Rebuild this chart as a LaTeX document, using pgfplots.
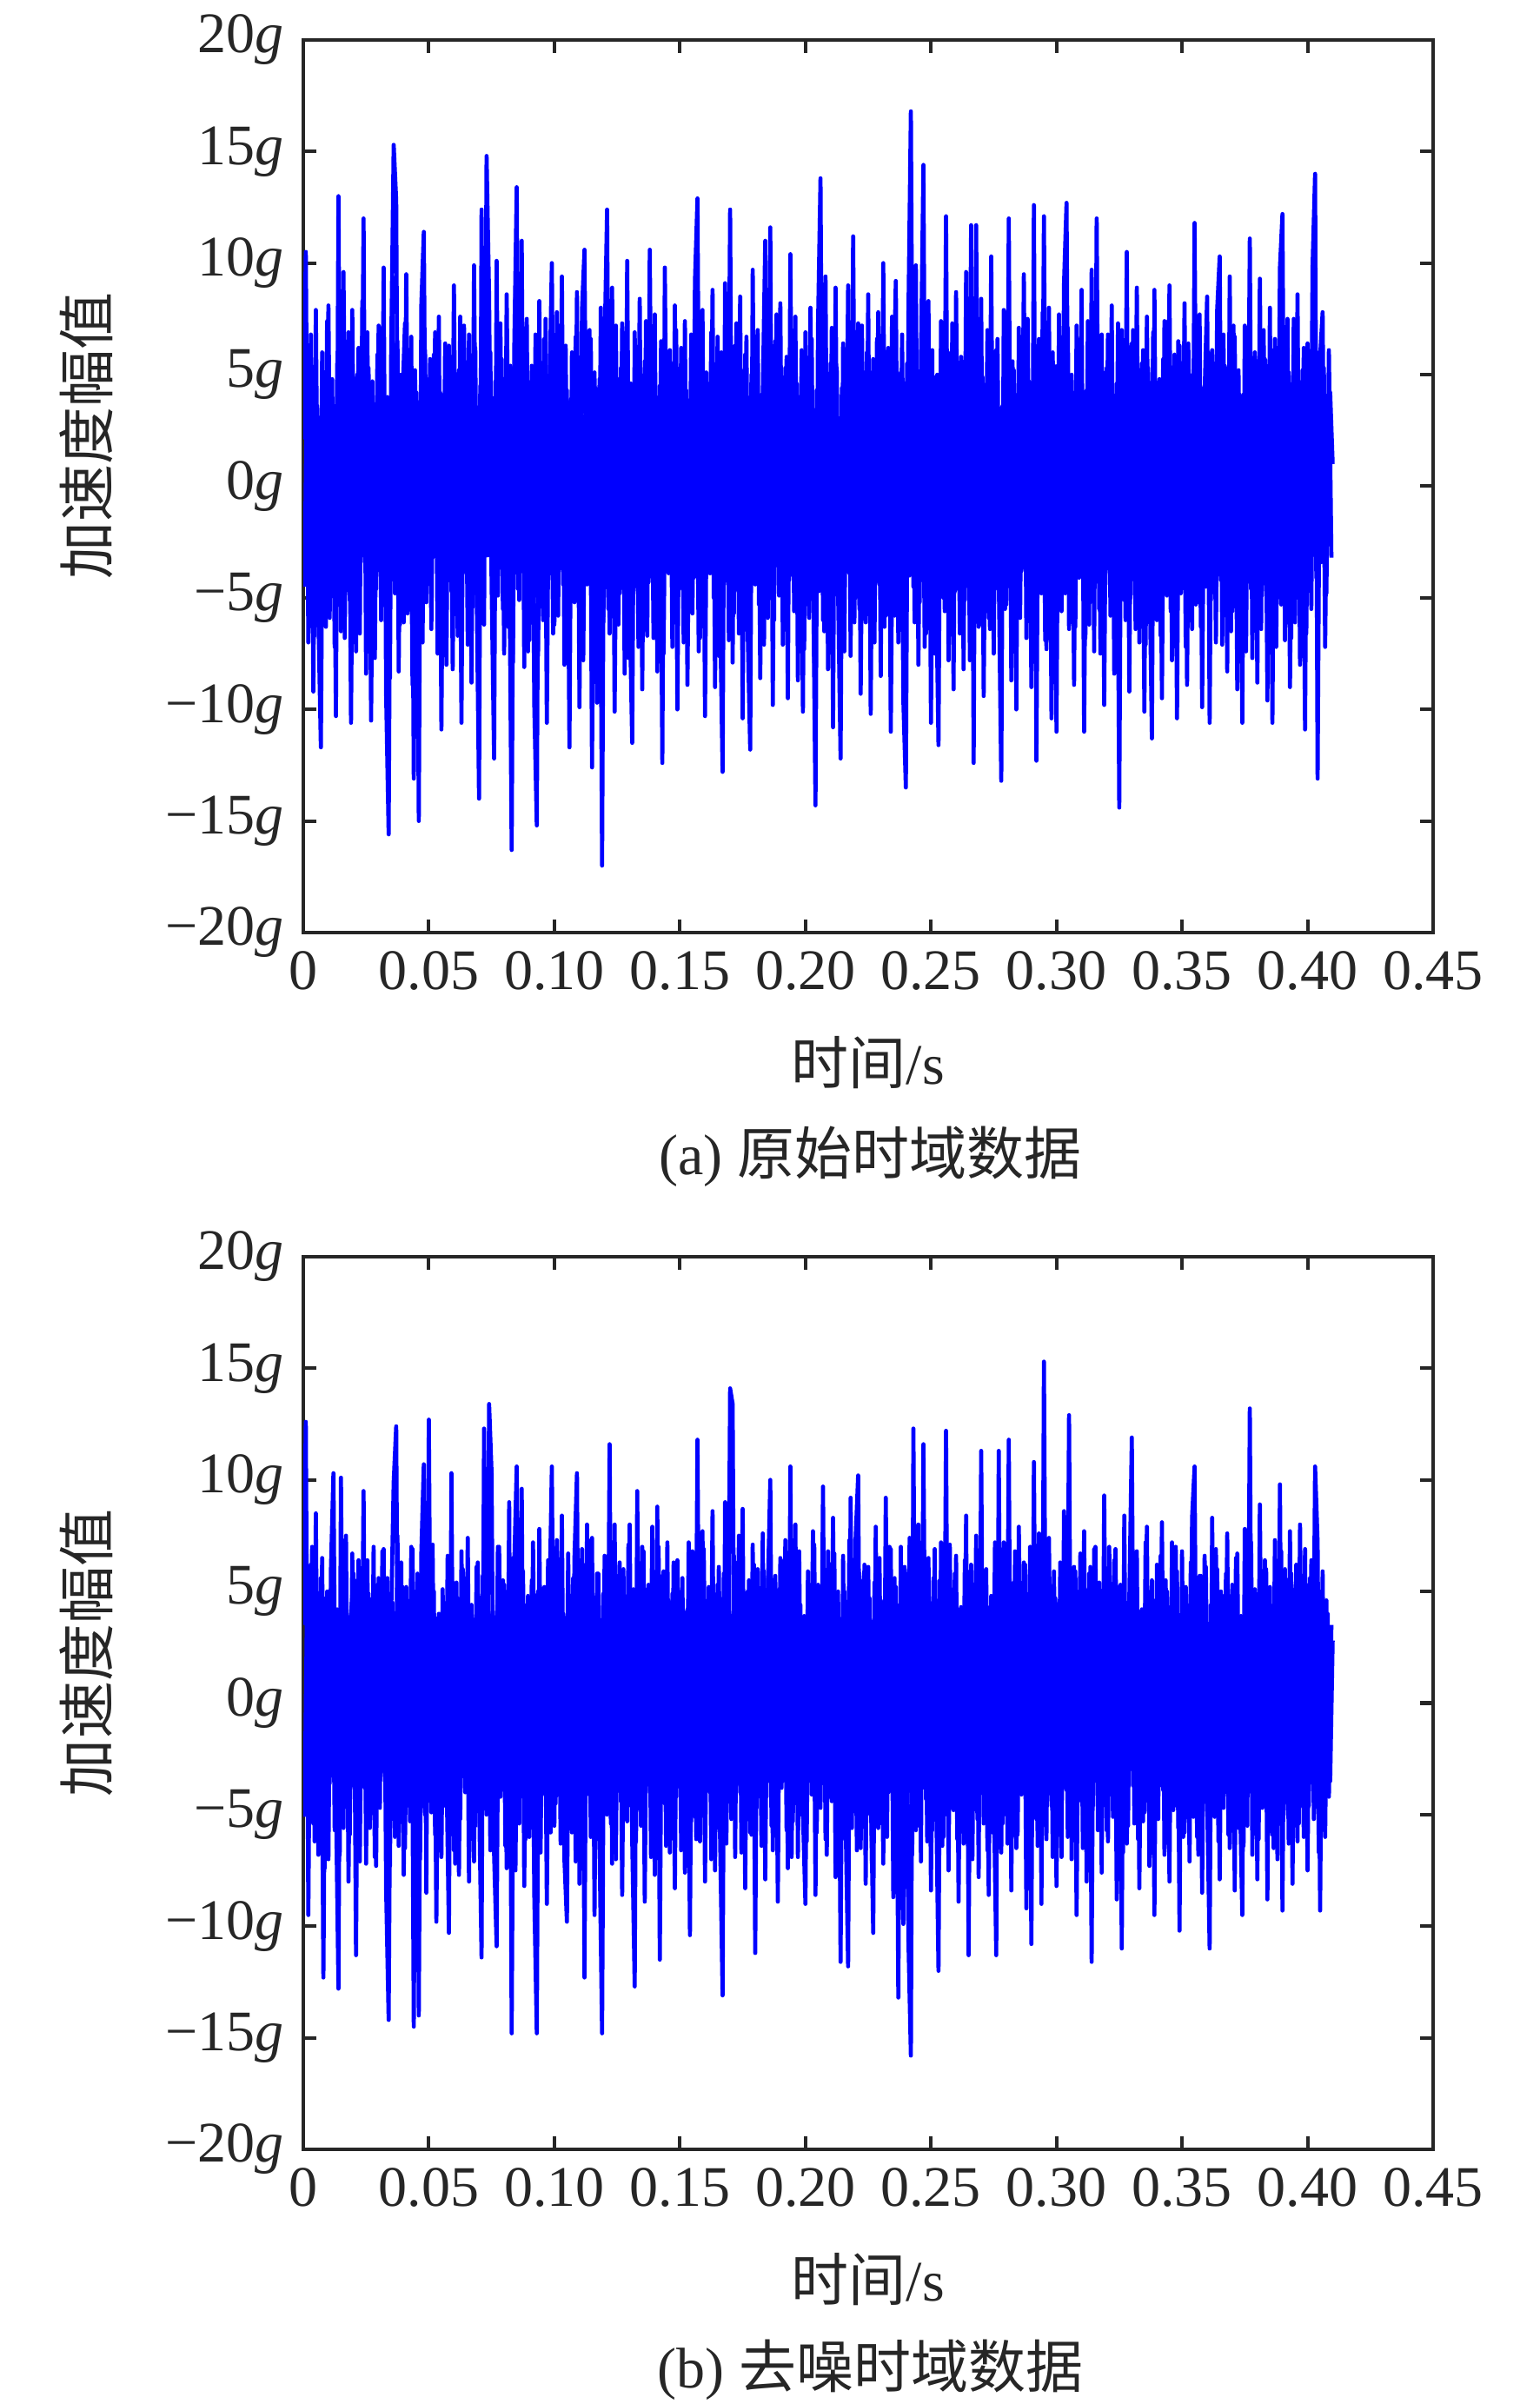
\documentclass[border=0pt]{standalone}
\usepackage{fontspec}
\setmainfont{Liberation Serif}
\newfontfamily\cjk{Noto Sans CJK SC}
\usepackage{pgfplots}
\usepackage{pgfplotstable}
\pgfplotsset{compat=1.18}
\definecolor{axgray}{RGB}{38,38,38}
\definecolor{sig}{RGB}{0,0,255}

% raw signal, samples at whole ms (0 ... 0.410 s)
\pgfplotstableread[row sep=\\]{
a\\
2.1\\ 10.5\\ -7.0\\ 6.8\\ -9.2\\ 7.9\\ -5.8\\ -11.7\\ 4.9\\ -6.3\\
8.1\\ -4.2\\ 3.0\\ -10.3\\ 13.0\\ -6.5\\ 9.6\\ -3.1\\ 6.9\\ -10.6\\
3.8\\ -7.4\\ 6.2\\ -2.5\\ 12.0\\ -8.4\\ 5.3\\ -10.5\\ 3.1\\ -4.6\\
7.2\\ -6.0\\ 9.8\\ -9.4\\ -15.6\\ 6.1\\ 15.3\\ 12.8\\ -8.3\\ 5.0\\
-6.1\\ 9.5\\ -3.8\\ 6.7\\ -13.1\\ 4.2\\ -15.0\\ 8.1\\ 11.4\\ -5.2\\
4.8\\ -6.4\\ 5.9\\ -2.0\\ 7.6\\ -10.9\\ 4.1\\ -8.0\\ 6.3\\ -4.7\\
9.0\\ -5.5\\ 5.2\\ -10.6\\ 7.2\\ -3.3\\ 6.8\\ -8.8\\ 9.9\\ -4.0\\
-14.0\\ 12.4\\ -6.2\\ 14.8\\ 8.5\\ -4.4\\ -12.2\\ 10.1\\ -3.6\\ 5.7\\
-7.5\\ 8.6\\ -2.2\\ -16.3\\ 6.0\\ 13.4\\ -5.1\\ 11.0\\ -8.1\\ 7.5\\
-6.9\\ 5.4\\ -9.8\\ -15.2\\ 8.3\\ -4.9\\ 6.6\\ -10.6\\ 3.9\\ 10.0\\
-6.2\\ 7.8\\ -3.5\\ 9.4\\ -8.0\\ 4.3\\ -11.7\\ 6.0\\ -5.2\\ 8.7\\
-9.9\\ 7.9\\ 10.6\\ -4.4\\ 7.0\\ -12.6\\ 5.1\\ -9.7\\ 4.8\\ -17.0\\
6.2\\ 12.4\\ -6.6\\ 8.9\\ -10.1\\ 3.4\\ -4.8\\ 7.3\\ -8.4\\ 10.1\\
-5.4\\ -11.5\\ 6.9\\ -3.0\\ 8.4\\ -9.1\\ 5.6\\ -6.7\\ 10.6\\ -4.1\\
7.7\\ -8.3\\ 4.5\\ -12.4\\ 9.8\\ -2.9\\ 6.1\\ -7.2\\ 8.1\\ -10.0\\
5.0\\ -4.6\\ 7.4\\ -8.9\\ 3.2\\ -5.7\\ 9.2\\ 12.9\\ -6.8\\ 7.9\\
-10.3\\ 4.6\\ -3.9\\ 8.8\\ -9.0\\ 6.7\\ -5.6\\ -12.8\\ 9.1\\ -4.2\\
12.4\\ -7.9\\ 6.3\\ -3.7\\ 8.5\\ -10.4\\ 5.9\\ -6.5\\ -11.8\\ 9.7\\
-4.4\\ 7.0\\ -8.6\\ 4.1\\ 11.0\\ -5.9\\ 11.6\\ -9.8\\ 6.5\\ -3.4\\
8.2\\ -7.1\\ 5.3\\ -9.5\\ 10.4\\ -4.0\\ 7.6\\ -8.7\\ 3.6\\ -10.1\\
6.9\\ -5.3\\ 8.0\\ -3.2\\ -14.3\\ 7.1\\ 13.8\\ -6.0\\ 9.4\\ -8.2\\
5.5\\ -10.8\\ 8.9\\ -4.7\\ -12.2\\ 6.4\\ -3.5\\ 9.0\\ -7.6\\ 11.2\\
-5.0\\ 7.3\\ -9.3\\ 4.0\\ -6.1\\ 8.6\\ -10.2\\ 5.7\\ -4.3\\ 7.8\\
-8.5\\ 10.0\\ -5.8\\ 6.2\\ -11.0\\ 3.8\\ 9.2\\ -7.0\\ 5.1\\ -9.6\\
-13.5\\ 7.5\\ 16.8\\ -4.5\\ 9.9\\ -8.0\\ 5.6\\ 14.4\\ -6.6\\ 8.3\\
-10.6\\ 4.9\\ -3.9\\ -11.6\\ 7.4\\ -5.0\\ 12.1\\ -7.8\\ 6.0\\ -9.1\\
8.7\\ -4.6\\ 5.8\\ -8.2\\ 9.6\\ -3.6\\ 11.7\\ -12.4\\ 11.7\\ -6.3\\
8.4\\ -9.4\\ 4.4\\ -5.9\\ 10.3\\ -7.5\\ 6.1\\ -4.0\\ -13.2\\ 7.9\\
-5.3\\ 12.0\\ -8.7\\ 5.2\\ -10.0\\ 7.1\\ -3.8\\ 9.5\\ -6.8\\ 4.7\\
-9.0\\ 12.6\\ -12.3\\ 6.6\\ -4.8\\ 12.1\\ -7.3\\ 8.0\\ -10.4\\ 5.4\\
-11.0\\ 7.7\\ -5.6\\ 9.1\\ 12.7\\ -6.4\\ 5.0\\ -8.9\\ 7.2\\ -4.1\\
8.8\\ -11.0\\ 4.3\\ -6.2\\ 9.7\\ -7.4\\ 12.0\\ -5.5\\ 6.8\\ -9.8\\
5.3\\ -3.7\\ 8.1\\ -8.4\\ 4.6\\ -14.4\\ 7.0\\ -5.1\\ 10.5\\ -9.2\\
6.4\\ -4.2\\ 8.9\\ -7.0\\ 5.5\\ -10.1\\ 7.6\\ -3.3\\ -11.3\\ 8.8\\
-6.0\\ 4.8\\ -9.5\\ 7.4\\ -4.9\\ 9.0\\ -7.8\\ 5.9\\ -10.4\\ 6.3\\
-3.9\\ 8.2\\ -8.9\\ 5.0\\ -6.4\\ 11.8\\ -5.2\\ 7.7\\ -9.9\\ 4.2\\
8.5\\ -10.6\\ 6.1\\ -4.5\\ 7.9\\ 10.3\\ -7.1\\ 5.4\\ -8.3\\ 9.4\\
-5.6\\ 6.7\\ -9.1\\ 4.1\\ -10.6\\ 7.2\\ -3.6\\ 11.1\\ -7.7\\ 6.0\\
-8.8\\ 9.3\\ -4.4\\ 5.7\\ -9.6\\ 8.0\\ -10.6\\ 6.6\\ -5.0\\ 9.8\\
12.2\\ -6.9\\ 7.5\\ -9.0\\ 4.3\\ -6.1\\ 8.6\\ -8.0\\ 5.2\\ -10.9\\
6.4\\ -4.7\\ 9.9\\ 14.0\\ -13.1\\ 5.8\\ 7.8\\ -7.2\\ 3.0\\ 4.2\\ 1.0\\
}\rawdata

% raw signal, samples at half ms (0.0005 ... 0.4095 s)
\pgfplotstableread[row sep=\\]{
a\\
-4.5\\ 5.2\\ -3.8\\ 4.1\\ -6.7\\ 3.6\\ -8.1\\ 6.0\\ -3.5\\ 7.4\\
-5.9\\ 4.8\\ -7.2\\ 5.5\\ -3.9\\ 6.3\\ -6.8\\ 4.4\\ -5.1\\ 7.9\\
-4.2\\ 5.0\\ -6.6\\ 8.3\\ -3.4\\ 6.9\\ -5.3\\ 4.7\\ -7.7\\ 5.9\\
-3.6\\ 7.1\\ -5.0\\ 4.0\\ -8.6\\ 9.4\\ -4.8\\ 6.5\\ -6.2\\ 3.9\\
7.3\\ -5.7\\ 4.6\\ -8.9\\ 5.2\\ -6.4\\ 3.8\\ -7.0\\ 6.1\\ -4.3\\
5.7\\ -3.2\\ 6.9\\ -7.5\\ 4.2\\ -5.6\\ 6.4\\ -3.7\\ 5.1\\ -8.2\\
4.9\\ -6.7\\ 7.6\\ -3.9\\ 5.3\\ -7.1\\ 4.0\\ -5.4\\ 6.2\\ -8.0\\
4.5\\ -5.9\\ 7.8\\ -3.1\\ 6.0\\ -6.9\\ 4.7\\ -4.9\\ 7.3\\ -5.5\\
3.7\\ -6.3\\ 5.4\\ -7.9\\ 8.6\\ -4.6\\ 6.2\\ -3.8\\ 5.6\\ -7.4\\
4.3\\ -5.1\\ 6.8\\ -7.6\\ 3.5\\ -6.0\\ 7.5\\ -4.2\\ 5.8\\ -6.6\\
4.1\\ -5.8\\ 7.0\\ -4.4\\ 6.3\\ -7.3\\ 3.9\\ -5.0\\ 6.7\\ -4.6\\
5.2\\ -7.8\\ 4.8\\ -3.6\\ 6.6\\ -5.2\\ 4.4\\ -7.0\\ 8.0\\ -6.1\\
3.6\\ -5.5\\ 6.1\\ -4.0\\ 7.2\\ -6.2\\ 5.3\\ -3.4\\ 6.9\\ -7.7\\
4.6\\ -4.8\\ 5.9\\ -7.2\\ 3.8\\ -6.5\\ 7.4\\ -4.3\\ 5.0\\ -6.8\\
4.0\\ -5.3\\ 6.5\\ -7.5\\ 4.7\\ -3.9\\ 5.5\\ -6.1\\ 7.0\\ -4.5\\
6.2\\ -7.0\\ 4.3\\ -5.4\\ 6.8\\ -4.1\\ 5.7\\ -7.4\\ 3.9\\ -6.3\\
5.1\\ -3.7\\ 6.9\\ -5.0\\ 4.5\\ -7.6\\ 6.0\\ -4.4\\ 5.4\\ -6.9\\
4.2\\ -5.7\\ 7.3\\ -6.6\\ 3.9\\ -4.6\\ 6.7\\ -7.8\\ 5.0\\ -3.8\\
6.4\\ -5.3\\ 4.1\\ -7.1\\ 6.3\\ -4.5\\ 5.2\\ -6.0\\ 7.7\\ -4.9\\
3.8\\ -6.4\\ 5.8\\ -4.2\\ 7.0\\ -5.6\\ 4.6\\ -3.5\\ 6.1\\ -7.3\\
4.8\\ -5.9\\ 6.6\\ -7.9\\ 4.3\\ -4.7\\ 5.9\\ -6.5\\ 3.7\\ -5.2\\
7.1\\ -4.1\\ 5.3\\ -6.8\\ 4.4\\ -7.4\\ 6.2\\ -3.9\\ 5.6\\ -6.1\\
4.0\\ -5.5\\ 7.2\\ -4.8\\ 6.0\\ -3.6\\ 5.1\\ -7.0\\ 6.6\\ -4.4\\
3.9\\ -6.3\\ 5.4\\ -4.5\\ 7.6\\ -5.8\\ 4.2\\ -3.7\\ 6.8\\ -6.7\\
5.5\\ -4.0\\ 7.9\\ -6.1\\ 4.6\\ -5.2\\ 8.2\\ -7.2\\ 3.8\\ -4.9\\
6.1\\ -7.5\\ 5.0\\ -3.4\\ 6.7\\ -5.6\\ 4.3\\ -6.0\\ 7.3\\ -4.7\\
5.3\\ -6.6\\ 3.7\\ -5.1\\ 6.4\\ -7.8\\ 4.5\\ -4.3\\ 5.9\\ -6.2\\
4.9\\ -3.8\\ 7.0\\ -6.4\\ 5.2\\ -4.6\\ 6.6\\ -7.1\\ 3.6\\ -5.5\\
6.9\\ -4.2\\ 5.6\\ -7.3\\ 4.0\\ -5.9\\ 6.2\\ -3.7\\ 7.5\\ -6.0\\
4.4\\ -5.0\\ 6.3\\ -4.1\\ 7.8\\ -6.9\\ 3.9\\ -5.4\\ 6.0\\ -7.0\\
5.4\\ -3.6\\ 6.7\\ -4.8\\ 7.1\\ -5.7\\ 4.2\\ -6.3\\ 5.8\\ -4.0\\
3.5\\ -6.8\\ 7.4\\ -5.2\\ 4.9\\ -3.9\\ 6.6\\ -7.5\\ 5.1\\ -4.4\\
6.8\\ -5.8\\ 4.1\\ -6.6\\ 7.3\\ -4.3\\ 5.5\\ -6.0\\ 3.8\\ -5.0\\
7.0\\ -6.4\\ 4.6\\ -3.8\\ 6.1\\ -7.1\\ 5.3\\ -4.6\\ 6.9\\ -5.4\\
4.3\\ -6.7\\ 5.7\\ -4.0\\ 7.4\\ -5.6\\ 3.9\\ -6.2\\ 6.5\\ -4.8\\
5.0\\ -7.2\\ 6.4\\ -3.6\\ 4.7\\ -5.3\\ 7.1\\ -6.3\\ 4.4\\ -4.5\\
6.0\\ -5.1\\ 3.8\\ -7.0\\ 5.9\\ -4.2\\ 6.8\\ -5.8\\ 4.6\\ -6.5\\
7.2\\ -3.9\\ 5.2\\ -6.1\\ 4.1\\ -7.4\\ 6.3\\ -4.6\\ 5.5\\ -5.9\\
3.7\\ -6.4\\ 7.0\\ -4.9\\ 5.4\\ -3.8\\ 6.1\\ -7.2\\ 4.5\\ -5.3\\
6.6\\ -4.4\\ 5.1\\ -6.8\\ 7.5\\ -5.0\\ 4.0\\ -3.6\\ 6.2\\ -6.6\\
4.8\\ -5.5\\ 7.2\\ -4.1\\ 6.0\\ -3.4\\ 5.3\\ -4.8\\ 6.1\\ -3.2\\
}\rawmid

% denoised signal, samples at whole ms (0 ... 0.410 s)
\pgfplotstableread[row sep=\\]{
a\\
3.5\\ 12.6\\ -9.5\\ 6.2\\ -5.4\\ 8.5\\ -6.8\\ 5.6\\ -12.3\\ 4.7\\
-7.0\\ 6.0\\ 10.3\\ -4.2\\ -12.8\\ 10.1\\ -5.6\\ 7.5\\ -8.0\\ 3.9\\
5.8\\ -11.3\\ 6.4\\ -3.5\\ 9.5\\ -7.2\\ 4.9\\ -4.8\\ 7.0\\ -7.3\\
5.6\\ -3.1\\ 6.9\\ -8.4\\ -14.2\\ 4.0\\ 9.9\\ 12.4\\ -6.4\\ 6.3\\
-7.7\\ 5.2\\ -3.6\\ 7.0\\ -14.5\\ 4.4\\ -14.0\\ 6.7\\ 10.7\\ -8.5\\
12.7\\ -4.9\\ 5.0\\ -9.8\\ 4.0\\ -6.9\\ 3.6\\ -2.7\\ -10.3\\ 10.3\\
-6.6\\ 5.4\\ -7.7\\ 6.8\\ -3.3\\ 5.6\\ -8.0\\ 4.4\\ -7.1\\ 6.1\\
-4.0\\ -11.4\\ 12.3\\ -5.0\\ 13.4\\ 10.3\\ -6.8\\ -10.9\\ 7.0\\ -3.9\\
5.3\\ -7.4\\ 9.0\\ -14.8\\ 6.1\\ 10.6\\ -5.4\\ 9.6\\ -8.2\\ 4.4\\
-6.0\\ 5.5\\ -8.6\\ -14.8\\ 7.8\\ -4.1\\ 5.2\\ -9.0\\ 4.0\\ 10.6\\
-5.5\\ 7.3\\ -3.1\\ 8.4\\ -7.0\\ -9.8\\ 4.7\\ -5.8\\ 6.5\\ 10.3\\
-8.1\\ 6.9\\ -12.3\\ 8.0\\ -4.1\\ 7.4\\ -9.5\\ 5.8\\ -6.4\\ -14.8\\
6.6\\ -5.0\\ 11.6\\ -7.2\\ 8.0\\ -3.8\\ 6.3\\ -8.6\\ 4.5\\ -5.3\\
8.0\\ -6.1\\ -12.7\\ 9.5\\ -4.4\\ 7.0\\ -8.9\\ 5.1\\ -3.6\\ 7.9\\
-7.7\\ 8.8\\ -11.5\\ 5.7\\ -4.5\\ 7.2\\ -6.7\\ 4.9\\ -8.3\\ 6.4\\
-3.4\\ 5.6\\ -7.6\\ 4.2\\ -10.4\\ 6.8\\ -5.1\\ 11.8\\ -6.2\\ 7.7\\
-8.0\\ 4.6\\ -4.0\\ 8.6\\ -7.5\\ 5.3\\ -6.0\\ -13.1\\ 9.0\\ -3.8\\
14.1\\ 13.4\\ -6.9\\ 6.3\\ -3.7\\ 8.7\\ -8.3\\ 5.0\\ -5.8\\ 7.1\\
-11.2\\ 6.0\\ -4.2\\ 7.6\\ -7.9\\ 4.9\\ 10.0\\ -6.6\\ 5.7\\ -8.9\\
6.5\\ -3.5\\ 7.3\\ -7.4\\ 10.6\\ -5.3\\ 8.0\\ -6.9\\ 4.4\\ -4.9\\
-9.0\\ 5.9\\ -3.4\\ 7.7\\ -8.6\\ 5.3\\ -4.7\\ 9.7\\ -6.1\\ 6.8\\
-3.9\\ 8.3\\ -7.8\\ 5.0\\ -11.6\\ 6.6\\ -5.2\\ -11.8\\ 9.2\\ -4.5\\
7.4\\ 10.2\\ -6.5\\ 5.5\\ -8.1\\ 6.1\\ -3.8\\ -10.3\\ 7.9\\ -5.6\\
4.6\\ -7.2\\ 9.2\\ -4.0\\ 6.9\\ -8.7\\ 5.2\\ -13.2\\ 7.0\\ -9.9\\
5.8\\ -10.5\\ -15.8\\ 12.3\\ -5.7\\ 8.0\\ -7.1\\ 11.6\\ -4.3\\ 6.5\\
-8.4\\ 5.6\\ -3.6\\ -12.0\\ 7.2\\ -6.0\\ 12.2\\ -7.5\\ 5.1\\ -4.8\\
6.6\\ -8.9\\ 4.3\\ -6.3\\ 8.4\\ -11.3\\ 6.2\\ -4.2\\ 7.5\\ -7.8\\
11.3\\ -5.4\\ 6.0\\ -8.6\\ 4.8\\ -3.7\\ -11.3\\ 11.3\\ -6.7\\ 7.2\\
-5.0\\ 11.8\\ -8.4\\ 5.4\\ -6.5\\ 7.9\\ -4.1\\ 6.3\\ -9.2\\ 4.9\\
-10.8\\ 10.8\\ -5.2\\ 7.6\\ -9.0\\ 15.3\\ -6.1\\ 7.4\\ -4.6\\ 5.9\\
-8.2\\ 4.5\\ -6.9\\ 8.6\\ -3.9\\ 12.9\\ -7.0\\ 6.1\\ -9.5\\ 5.0\\
-4.4\\ 7.7\\ -8.0\\ 5.8\\ -11.6\\ 6.9\\ -3.5\\ 5.4\\ -7.6\\ 9.3\\
-5.7\\ 7.0\\ -4.0\\ 6.4\\ -8.8\\ 5.2\\ -11.0\\ 8.4\\ -6.3\\ 4.6\\
11.9\\ -5.4\\ 6.8\\ -8.3\\ 4.2\\ -4.9\\ 7.9\\ -7.3\\ 5.5\\ -9.5\\
6.2\\ -3.7\\ 8.1\\ -6.8\\ 5.0\\ -8.0\\ 7.2\\ -4.6\\ 5.9\\ -10.2\\
6.8\\ -5.8\\ 4.4\\ -7.1\\ 8.3\\ 10.6\\ -6.0\\ 5.7\\ -8.5\\ 6.6\\
-4.3\\ -11.0\\ 8.3\\ -5.1\\ 6.0\\ -7.9\\ 4.8\\ -4.0\\ 7.6\\ -6.5\\
5.3\\ -8.4\\ 6.7\\ -3.8\\ -9.5\\ 7.8\\ -5.5\\ 13.2\\ -6.8\\ 5.1\\
-7.9\\ 8.9\\ -4.7\\ 6.4\\ -8.8\\ 5.2\\ -5.9\\ 7.3\\ -7.0\\ 9.8\\
-9.3\\ 6.0\\ -4.5\\ 7.7\\ -8.1\\ 5.1\\ -6.2\\ 8.0\\ -4.0\\ 6.9\\
-7.5\\ 5.6\\ -3.6\\ 10.6\\ 7.2\\ -9.3\\ 5.9\\ -6.0\\ 4.0\\ -3.5\\ 2.8\\
}\cleandata

% denoised signal, samples at half ms (0.0005 ... 0.4095 s)
\pgfplotstableread[row sep=\\]{
a\\
-5.1\\ 4.6\\ -3.9\\ 7.0\\ -6.2\\ 4.3\\ -4.8\\ 6.5\\ -7.4\\ 5.0\\
-3.6\\ 6.1\\ -5.7\\ 4.2\\ -6.8\\ 7.3\\ -4.5\\ 3.9\\ -5.9\\ 6.7\\
-4.3\\ 5.5\\ -7.1\\ 4.8\\ -3.8\\ 6.4\\ -5.6\\ 4.0\\ -6.9\\ 5.3\\
-4.7\\ 6.8\\ -3.5\\ 5.6\\ -7.3\\ 4.5\\ -6.0\\ 7.5\\ -4.1\\ 5.2\\
-6.5\\ 4.0\\ -5.3\\ 6.9\\ -3.7\\ 5.8\\ -7.0\\ 4.4\\ -5.0\\ 6.2\\
-4.4\\ 7.1\\ -5.9\\ 3.8\\ -6.3\\ 5.1\\ -4.6\\ 6.6\\ -3.9\\ 5.4\\
-7.2\\ 4.7\\ -5.2\\ 6.0\\ -4.0\\ 7.4\\ -6.1\\ 3.7\\ -5.5\\ 6.3\\
-4.9\\ 5.7\\ -3.6\\ 6.8\\ -6.6\\ 4.1\\ -5.4\\ 7.0\\ -4.2\\ 5.5\\
-6.4\\ 3.9\\ -5.1\\ 6.5\\ -7.5\\ 4.6\\ -3.8\\ 5.9\\ -6.1\\ 4.8\\
-5.6\\ 7.2\\ -4.3\\ 5.0\\ -6.7\\ 4.2\\ -3.9\\ 6.4\\ -5.8\\ 7.0\\
-4.5\\ 5.3\\ -6.3\\ 4.0\\ -5.0\\ 6.7\\ -3.7\\ 5.6\\ -7.1\\ 4.5\\
-5.8\\ 6.2\\ -4.1\\ 7.3\\ -6.0\\ 3.8\\ -4.7\\ 5.8\\ -6.5\\ 4.9\\
-3.9\\ 6.6\\ -5.4\\ 4.3\\ -7.0\\ 5.7\\ -4.4\\ 6.0\\ -5.2\\ 7.1\\
-4.6\\ 5.1\\ -6.2\\ 3.7\\ -5.5\\ 6.8\\ -4.0\\ 5.3\\ -6.9\\ 4.4\\
-5.0\\ 7.0\\ -3.8\\ 5.9\\ -6.4\\ 4.6\\ -5.7\\ 6.3\\ -4.2\\ 5.0\\
-6.6\\ 4.1\\ -4.9\\ 7.2\\ -5.3\\ 3.9\\ -6.1\\ 5.6\\ -4.4\\ 6.9\\
-3.7\\ 5.2\\ -7.0\\ 4.7\\ -5.6\\ 6.1\\ -4.3\\ 5.8\\ -6.3\\ 4.0\\
-5.2\\ 6.6\\ -4.0\\ 7.5\\ -6.7\\ 4.4\\ -3.9\\ 5.5\\ -5.9\\ 6.2\\
-4.7\\ 3.8\\ -6.4\\ 5.9\\ -4.2\\ 7.0\\ -5.5\\ 4.6\\ -6.0\\ 5.1\\
-3.8\\ 6.4\\ -5.7\\ 4.1\\ -6.9\\ 5.5\\ -4.5\\ 6.8\\ -5.0\\ 3.9\\
-6.2\\ 5.3\\ -4.1\\ 7.1\\ -5.8\\ 4.5\\ -3.6\\ 6.0\\ -6.8\\ 5.7\\
-4.4\\ 6.7\\ -5.3\\ 3.8\\ -6.1\\ 5.0\\ -4.8\\ 7.3\\ -5.6\\ 4.3\\
-6.6\\ 5.8\\ -3.9\\ 6.2\\ -5.0\\ 4.7\\ -7.2\\ 5.4\\ -4.1\\ 6.5\\
-5.4\\ 4.0\\ -6.0\\ 7.0\\ -3.7\\ 5.6\\ -6.5\\ 4.4\\ -5.1\\ 6.1\\
-4.6\\ 7.4\\ -6.8\\ 4.9\\ -5.5\\ 6.3\\ -3.8\\ 5.2\\ -6.2\\ 4.5\\
-5.7\\ 6.9\\ -4.3\\ 5.5\\ -6.4\\ 3.9\\ -5.0\\ 7.1\\ -4.7\\ 5.8\\
-6.1\\ 4.2\\ -5.6\\ 6.4\\ -3.9\\ 5.9\\ -7.0\\ 4.8\\ -5.2\\ 6.6\\
-4.0\\ 5.1\\ -6.6\\ 4.3\\ -5.8\\ 7.2\\ -4.5\\ 6.0\\ -5.4\\ 3.8\\
-6.3\\ 5.4\\ -4.2\\ 6.8\\ -5.9\\ 4.6\\ -3.7\\ 6.2\\ -5.1\\ 7.0\\
-4.8\\ 5.7\\ -6.4\\ 4.0\\ -5.5\\ 6.5\\ -4.1\\ 5.3\\ -6.9\\ 4.7\\
-5.3\\ 6.3\\ -3.8\\ 7.1\\ -6.0\\ 4.4\\ -5.0\\ 5.9\\ -4.3\\ 6.7\\
-6.5\\ 3.9\\ -5.4\\ 6.1\\ -4.6\\ 7.0\\ -5.7\\ 4.2\\ -3.9\\ 5.6\\
-6.2\\ 4.8\\ -5.1\\ 6.9\\ -4.0\\ 5.3\\ -6.7\\ 4.5\\ -5.5\\ 6.4\\
-3.7\\ 5.9\\ -6.1\\ 4.1\\ -5.3\\ 7.2\\ -4.4\\ 5.0\\ -6.6\\ 4.6\\
-5.2\\ 6.6\\ -3.9\\ 5.5\\ -6.3\\ 4.3\\ -4.8\\ 7.0\\ -5.6\\ 3.8\\
-6.0\\ 5.2\\ -4.5\\ 6.3\\ -5.1\\ 4.0\\ -6.8\\ 5.7\\ -4.2\\ 6.1\\
-5.5\\ 4.4\\ -3.8\\ 6.9\\ -6.2\\ 5.0\\ -4.7\\ 5.8\\ -5.9\\ 4.1\\
-4.3\\ 6.5\\ -5.6\\ 3.9\\ -6.4\\ 5.4\\ -4.0\\ 7.2\\ -5.3\\ 4.8\\
-6.1\\ 5.1\\ -3.7\\ 6.0\\ -5.7\\ 4.2\\ -6.5\\ 5.5\\ -4.4\\ 6.8\\
-5.0\\ 4.5\\ -6.3\\ 5.8\\ -4.1\\ 6.2\\ -5.4\\ 3.8\\ -6.0\\ 5.3\\
-4.6\\ 6.4\\ -5.2\\ 4.1\\ -6.7\\ 5.0\\ -3.9\\ 4.6\\ -4.2\\ 3.5\\
}\cleanmid

\pgfplotsset{
  sigaxis/.style={
    scale only axis,
    width=7.3363cm, height=5.7957cm,
    xmin=0, xmax=0.45, ymin=-20, ymax=20,
    xtick={0,0.05,0.1,0.15,0.2,0.25,0.3,0.35,0.4,0.45},
    xticklabels={0,0.05,0.10,0.15,0.20,0.25,0.30,0.35,0.40,0.45},
    ytick={-20,-15,-10,-5,0,5,10,15,20},
    yticklabels={−20\textit{g},−15\textit{g},−10\textit{g},−5\textit{g},0\textit{g},5\textit{g},10\textit{g},15\textit{g},20\textit{g}},
    axis line style={axgray, line width=0.65pt},
    every tick/.style={axgray, line width=0.65pt},
    major tick length=2.4pt,
    tick align=inside,
    tick label style={font=\fontsize{10.6}{12}\selectfont, text=axgray},
    label style={font=\fontsize{10.6}{12}\selectfont, text=axgray},
    xlabel={{\cjk 时间}/s},
    ylabel={\cjk 加速度幅值},
    xlabel style={at={(axis description cs:0.5,-0.146)}, anchor=center},
    ylabel style={at={(axis description cs:-0.1923,0.556)}, anchor=center},
  },
  sigline/.style={sig, line width=0.75pt, line join=round, no markers},
}

\begin{document}
\begin{tikzpicture}
\path[use as bounding box] (0,0) rectangle (10cm,-15.6095cm);

\begin{axis}[sigaxis, at={(1.9695cm,-0.2596cm)}, anchor=north west]
  \addplot[sigline] table[x expr=\coordindex*0.001+0.0005, y index=0] {\rawmid};
  \addplot[sigline] table[x expr=\coordindex*0.001, y index=0] {\rawdata};
\end{axis}
\node[font=\fontsize{10.6}{12}\selectfont, text=axgray] at (5.652cm,-7.51cm) {(a) {\cjk 原始时域数据}};

\begin{axis}[sigaxis, at={(1.9695cm,-8.1602cm)}, anchor=north west]
  \addplot[sigline] table[x expr=\coordindex*0.001+0.0005, y index=0] {\cleanmid};
  \addplot[sigline] table[x expr=\coordindex*0.001, y index=0] {\cleandata};
\end{axis}
\node[font=\fontsize{10.6}{12}\selectfont, text=axgray] at (5.652cm,-15.389cm) {(b) {\cjk 去噪时域数据}};
\end{tikzpicture}
\end{document}
